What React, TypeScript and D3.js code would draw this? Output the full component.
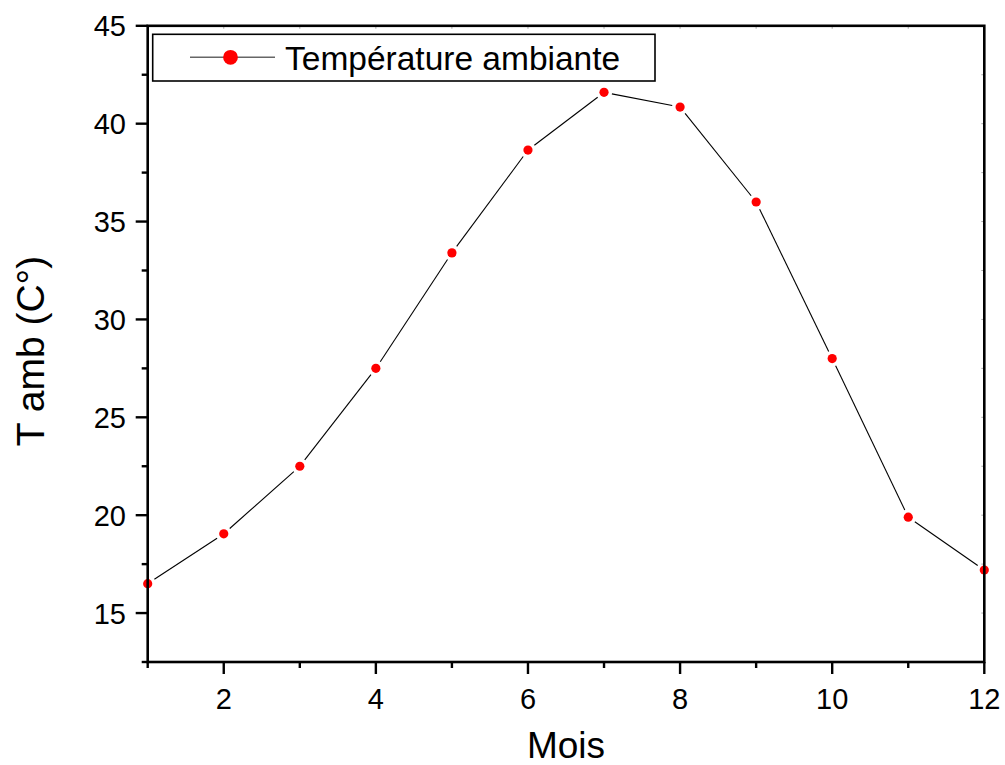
import React from "react";
import * as d3 from "d3";

const months = [1, 2, 3, 4, 5, 6, 7, 8, 9, 10, 11, 12];
const temps = [16.5, 19.05, 22.5, 27.5, 33.4, 38.65, 41.6, 40.85, 36.0, 28.0, 19.9, 17.2];
const xMajorTicks = [2, 4, 6, 8, 10, 12];
const xMinorTicks = [1, 3, 5, 7, 9, 11];
const yMajorTicks = [15, 20, 25, 30, 35, 40, 45];
const yMinorTicks = [12.5, 17.5, 22.5, 27.5, 32.5, 37.5, 42.5];
const seriesName = "Température ambiante";
const xTitle = "Mois";
const yTitle = "T amb (C°)";

const W = 1005;
const H = 765;
const left = 147.7;
const right = 984.3;
const top = 25.8;
const bottom = 662;
const FONT = "'Liberation Sans', Arial, Helvetica, sans-serif";

export default function App() {
  const x = d3.scaleLinear().domain([1, 12]).range([left, right]);
  const y = d3.scaleLinear().domain([12.5, 45]).range([bottom, top]);

  const pts = months.map((m, i) => [x(m), y(temps[i])] as [number, number]);
  const gap = 8;
  const segs: { x1: number; y1: number; x2: number; y2: number }[] = [];
  for (let i = 0; i < pts.length - 1; i++) {
    const [ax, ay] = pts[i];
    const [bx, by] = pts[i + 1];
    const len = Math.hypot(bx - ax, by - ay);
    const ux = (bx - ax) / len;
    const uy = (by - ay) / len;
    segs.push({ x1: ax + ux * gap, y1: ay + uy * gap, x2: bx - ux * gap, y2: by - uy * gap });
  }

  return (
    <svg
      width={W}
      height={H}
      style={{ position: "absolute", left: 0, top: 0, background: "#fff" }}
      fontFamily={FONT}
    >
      <rect x={0} y={0} width={W} height={H} fill="#fff" />
      {/* faint inner ticks on top / right */}
      {months.map((m) => (
        <line key={"tt" + m} x1={x(m)} x2={x(m)} y1={top} y2={top + 3} stroke="#aaa" strokeWidth={1} />
      ))}
      {[...yMajorTicks, ...yMinorTicks].map((v) => (
        <line key={"rt" + v} x1={right - 3} x2={right} y1={y(v)} y2={y(v)} stroke="#aaa" strokeWidth={1} />
      ))}

      {/* data line */}
      {segs.map((s, i) => (
        <line key={"s" + i} x1={s.x1} y1={s.y1} x2={s.x2} y2={s.y2} stroke="#000" strokeWidth={1.1} />
      ))}
      {/* markers */}
      {pts.map(([px, py], i) => (
        <circle key={"p" + i} cx={px} cy={py} r={4.6} fill="#ff0000" />
      ))}

      {/* frame */}
      <rect x={left} y={top} width={right - left} height={bottom - top} fill="none" stroke="#000" strokeWidth={2.6} />

      {/* bottom ticks */}
      {xMajorTicks.map((v) => (
        <g key={"xm" + v}>
          <line x1={x(v)} x2={x(v)} y1={bottom} y2={bottom + 12} stroke="#000" strokeWidth={2.4} />
          <text x={x(v)} y={709} fontSize={29} textAnchor="middle" fill="#000">
            {v}
          </text>
        </g>
      ))}
      {xMinorTicks.map((v) => (
        <line key={"xn" + v} x1={x(v)} x2={x(v)} y1={bottom} y2={bottom + 6} stroke="#000" strokeWidth={2.4} />
      ))}

      {/* left ticks */}
      {yMajorTicks.map((v) => (
        <g key={"ym" + v}>
          <line x1={left - 12} x2={left} y1={y(v)} y2={y(v)} stroke="#000" strokeWidth={2.4} />
          <text x={126} y={y(v) + 10.5} fontSize={29} textAnchor="end" fill="#000">
            {v}
          </text>
        </g>
      ))}
      {yMinorTicks.map((v) => (
        <line key={"yn" + v} x1={left - 6} x2={left} y1={y(v)} y2={y(v)} stroke="#000" strokeWidth={2.4} />
      ))}

      {/* axis titles */}
      <text x={(left + right) / 2} y={758} fontSize={37} textAnchor="middle" fill="#000">
        {xTitle}
      </text>
      <text
        transform={`translate(44, 351) rotate(-90)`}
        fontSize={39}
        textAnchor="middle"
        fill="#000"
      >
        {yTitle}
      </text>

      {/* legend */}
      <rect x={152.7} y={34.3} width={502.3} height={46.7} fill="#fff" stroke="#000" strokeWidth={1.6} />
      <line x1={190} x2={275} y1={57.3} y2={57.3} stroke="#666" strokeWidth={1.5} />
      <circle cx={230.5} cy={57.3} r={7.4} fill="#ff0000" />
      <text x={285} y={70} fontSize={33.5} fill="#000">
        {seriesName}
      </text>
    </svg>
  );
}
